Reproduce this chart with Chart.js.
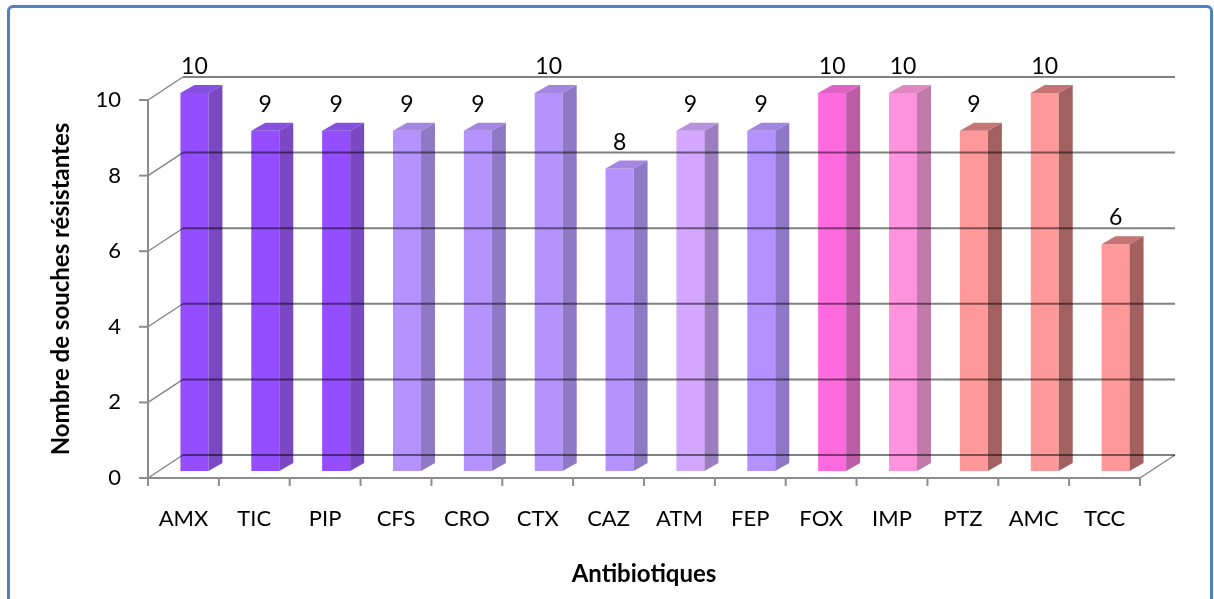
<!DOCTYPE html>
<html>
<head>
<meta charset="utf-8">
<title>Antibiotiques</title>
<script src="https://cdn.jsdelivr.net/npm/chart.js@4.4.0/dist/chart.umd.min.js"></script>
<style>
html, body { margin:0; padding:0; background:#fff; }
#wrap { position:relative; width:1214px; height:599px; overflow:hidden; }
#frame { position:absolute; left:7px; top:5px; width:1200px; height:620px; border:3px solid #4F81BD; border-radius:6px; pointer-events:none; }
</style>
</head>
<body>
<div id="wrap">
  <canvas id="myChart"></canvas>
  <div id="frame"></div>
</div>
<script>
const labels = ['AMX', 'TIC', 'PIP', 'CFS', 'CRO', 'CTX', 'CAZ', 'ATM', 'FEP', 'FOX', 'IMP', 'PTZ', 'AMC', 'TCC'];
const values = [10, 9, 9, 9, 9, 10, 8, 9, 9, 10, 10, 9, 10, 6];
const yTicks = [0, 2, 4, 6, 8, 10];

const frontColors = ['#944DFF', '#944DFF', '#944DFF', '#B593FF', '#B593FF', '#B593FF', '#B593FF',
  '#D3A6FF', '#B391FF', '#FF6BDF', '#FF93DD', '#FF9999', '#FF9999', '#FF9999'];
const sideColors = ['#7A48C2', '#7A48C2', '#7A48C2', '#8F79C5', '#8F79C5', '#8F79C5', '#8F79C5',
  '#9C7DBF', '#8E77C4', '#BD5CA6', '#C17BAB', '#A36060', '#A36060', '#A36060'];
const topColors = ['#8550E0', '#8550E0', '#8550E0', '#A486E2', '#A486E2', '#A486E2', '#A486E2',
  '#B892DF', '#A284E2', '#DE63C3', '#E087C4', '#C57373', '#C57373', '#C57373'];

// fake 3D offsets (px)
const shift = { dx: 11, dy: -7 };   // bars sit a bit behind the front plane
const depth = { dx: 14, dy: -8 };   // bar thickness
const wall = { dx: 35, dy: -23 };   // back wall where gridlines live

function line(ctx, x1, y1, x2, y2) {
  ctx.beginPath();
  ctx.moveTo(x1, y1);
  ctx.lineTo(x2, y2);
  ctx.stroke();
}

const fake3d = {
  id: 'fake3d',
  beforeDatasetsDraw(chart) {
    chart.ctx.save();
    chart.ctx.translate(shift.dx, shift.dy);
  },
  afterDatasetsDraw(chart) {
    const ctx = chart.ctx;
    const bars = chart.getDatasetMeta(0).data;
    bars.forEach((b, i) => {
      const l = b.x - b.width / 2, r = b.x + b.width / 2;
      // side face
      ctx.fillStyle = sideColors[i];
      ctx.beginPath();
      ctx.moveTo(r, b.y);
      ctx.lineTo(r + depth.dx, b.y + depth.dy);
      ctx.lineTo(r + depth.dx, b.base + depth.dy);
      ctx.lineTo(r, b.base);
      ctx.closePath();
      ctx.fill();
      // top face
      ctx.fillStyle = topColors[i];
      ctx.beginPath();
      ctx.moveTo(l, b.y);
      ctx.lineTo(l + depth.dx, b.y + depth.dy);
      ctx.lineTo(r + depth.dx, b.y + depth.dy);
      ctx.lineTo(r, b.y);
      ctx.closePath();
      ctx.fill();
    });
    ctx.restore();

    const ys = chart.scales.y;
    const area = chart.chartArea;
    const x0 = area.left, x1 = area.right;
    const yb = ys.getPixelForValue(0);

    // back wall gridlines, multiplied so they darken the bars they cross
    ctx.save();
    ctx.globalCompositeOperation = 'multiply';
    ctx.strokeStyle = '#808080';
    yTicks.forEach(v => {
      const y = ys.getPixelForValue(v);
      ctx.lineWidth = 1.3;
      line(ctx, x0, y, x0 + wall.dx, y + wall.dy);
      ctx.lineWidth = 2;
      line(ctx, x0 + wall.dx, y + wall.dy, x1 + wall.dx, y + wall.dy);
    });
    ctx.lineWidth = 1.3;
    line(ctx, x1, yb, x1 + wall.dx, yb + wall.dy);
    ctx.restore();

    // front axes
    ctx.save();
    ctx.strokeStyle = '#8C8C8C';
    ctx.lineWidth = 2;
    line(ctx, x0, ys.getPixelForValue(10), x0, yb);
    line(ctx, x0, yb, x1, yb);
    yTicks.forEach(v => {
      const y = ys.getPixelForValue(v);
      line(ctx, x0 - 9, y, x0, y);
    });
    const step = (x1 - x0) / labels.length;
    for (let k = 0; k <= labels.length; k++) {
      line(ctx, x0 + k * step, yb, x0 + k * step, yb + 8);
    }
    ctx.restore();

    // value labels
    ctx.save();
    ctx.fillStyle = '#000';
    ctx.font = '23px Lato';
    ctx.textAlign = 'center';
    ctx.textBaseline = 'alphabetic';
    bars.forEach((b, i) => {
      ctx.fillText(String(values[i]), b.x + shift.dx, b.y + shift.dy - 19);
    });
    ctx.restore();
  }
};

Chart.defaults.font.family = 'Lato';
Chart.defaults.color = '#000';

const ctx = document.getElementById('myChart').getContext('2d');
const myChart = new Chart(ctx, {
  type: 'bar',
  data: {
    labels: labels,
    datasets: [{
      data: values,
      backgroundColor: frontColors,
      borderWidth: 0,
      barPercentage: 0.395,
      categoryPercentage: 1.0,
      clip: false
    }]
  },
  options: {
    responsive: true,
    maintainAspectRatio: false,
    animation: false,
    layout: { padding: { left: 0, right: 74, top: 100, bottom: 0 } },
    plugins: { legend: { display: false }, tooltip: { enabled: false } },
    scales: {
      x: {
        grid: { display: false, drawTicks: false },
        border: { display: false },
        ticks: { font: { size: 22 }, padding: 28, maxRotation: 0 },
        title: { display: true, text: 'Antibiotiques', font: { size: 24, weight: 'bold' }, padding: { top: 0, bottom: 10 } },
        afterFit: s => { s.height = 121; }
      },
      y: {
        min: 0,
        max: 10,
        grid: { display: false, drawTicks: false },
        border: { display: false },
        ticks: { stepSize: 2, font: { size: 22 }, padding: 27 },
        title: { display: true, text: 'Nombre de souches résistantes', font: { size: 24, weight: 'bold' }, padding: { top: 47, bottom: 0 } },
        afterFit: s => { s.width = 148; }
      }
    }
  },
  plugins: [fake3d]
});
</script>
</body>
</html>
